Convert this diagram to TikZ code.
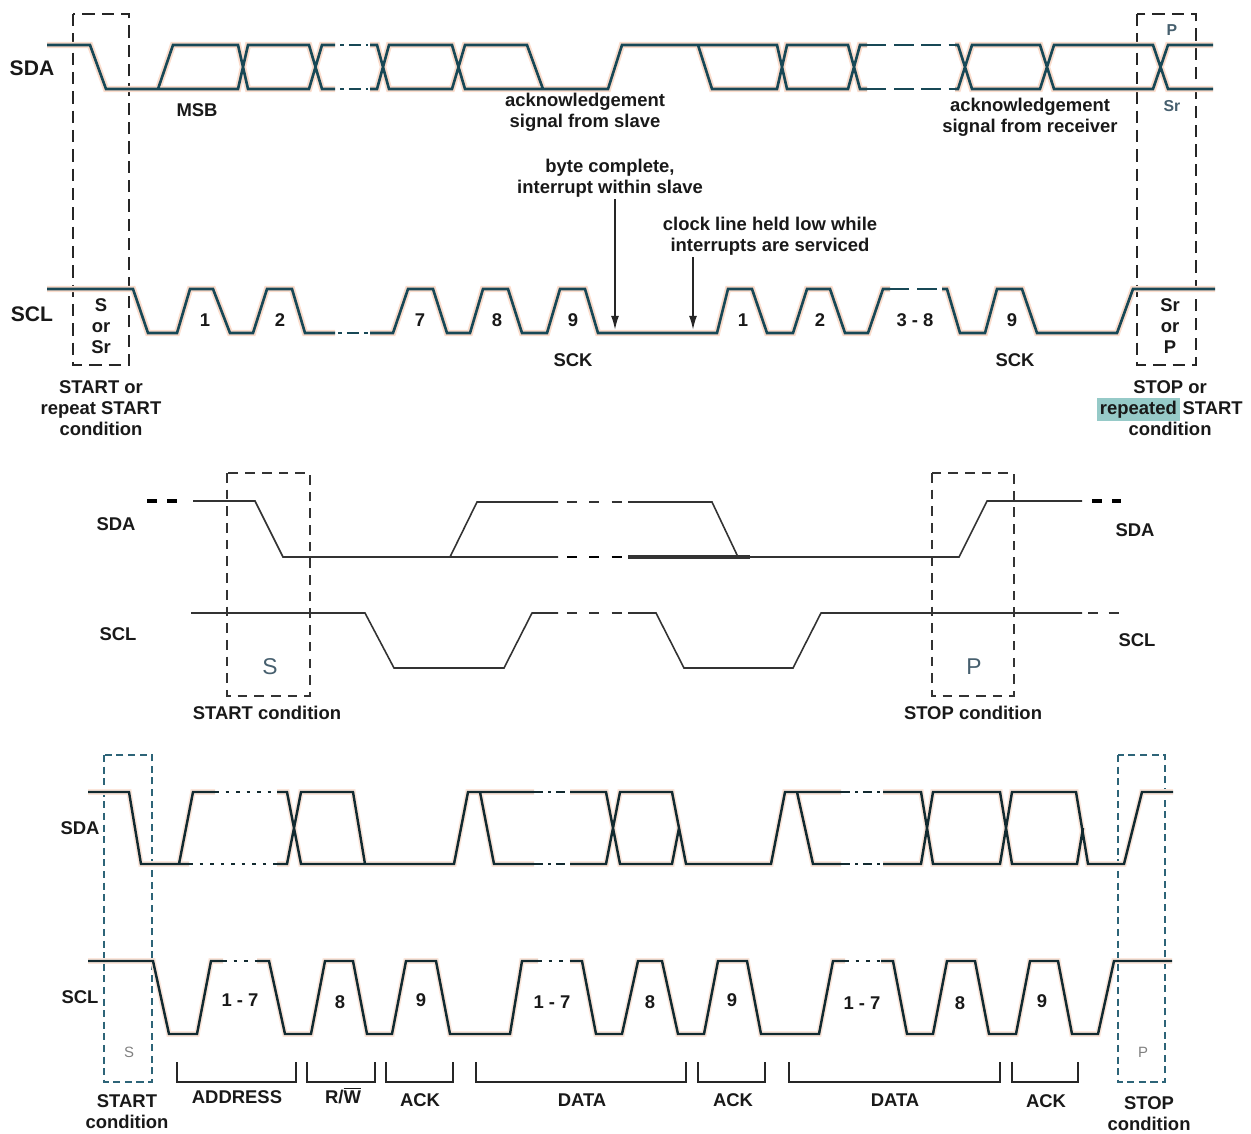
\documentclass[tikz,border=0pt]{standalone}
\usepackage{fontspec}
\setmainfont{Liberation Sans}
\usetikzlibrary{arrows.meta}
\definecolor{wavecol}{RGB}{24,72,86}
\definecolor{halo}{RGB}{250,220,204}
\definecolor{botcol}{RGB}{18,42,48}
\definecolor{boxteal}{RGB}{45,100,120}
\definecolor{hlteal}{RGB}{150,202,200}
\definecolor{condgray}{RGB}{70,95,110}
\setlength{\fboxsep}{1.5pt}

\begin{document}
\begin{tikzpicture}[x=0.02cm, y=-0.02cm,
	lbl/.style={font=\fontsize{10.5}{11.9}\selectfont\bfseries, align=center, inner sep=1pt, text=black!90},
	siglbl/.style={font=\fontsize{12}{14}\selectfont\bfseries, inner sep=1pt, text=black!90},
	pslbl/.style={font=\fontsize{9}{10}\selectfont\bfseries, inner sep=1pt, text=condgray},
	wave/.style={draw=wavecol, line width=1.5pt, preaction={draw=halo, line width=3.6pt}},
	wavegap/.style={draw=wavecol, line width=1.5pt, dash pattern=on 2.3pt off 2.8pt on 6.8pt off 2.8pt},
	wavedash/.style={draw=wavecol, line width=1.5pt, dash pattern=on 11pt off 4.5pt},
	topbox/.style={draw=black!85, line width=1.1pt, dash pattern=on 7pt off 4pt},
	sigarrow/.style={-{Latex[length=8pt,width=4.5pt]}, line width=1pt, draw=black!85},
	thinwave/.style={draw=black!80, line width=0.9pt},
	thickdash/.style={draw=black, line width=1.8pt, dash pattern=on 5.7pt off 5.7pt},
	midbox/.style={draw=black!80, line width=0.8pt, dash pattern=on 5.5pt off 4pt},
	botwave/.style={draw=botcol, line width=1.4pt, preaction={draw=halo!70, line width=3.2pt}},
	botdot/.style={draw=botcol, line width=1.4pt, dash pattern=on 2pt off 4pt},
	botgap/.style={draw=botcol, line width=1.4pt, dash pattern=on 5pt off 3pt on 1.5pt off 3pt},
	botbox/.style={draw=boxteal, line width=1.2pt, dash pattern=on 4pt off 2.6pt},
	brk/.style={draw=black!85, line width=1pt}]
	\useasboundingbox (0,0) rectangle (1251,1133);

	% Byte transfer with clock stretching
	\draw[topbox] (73,14) rectangle (129,365);
	\draw[topbox] (1137,14) rectangle (1196,365);
	\draw[wave] (47,45) -- (90,45) -- (106,89) -- (238,89) -- (248,45) -- (309,45) -- (322,89) -- (335,89)
		(158,89) -- (173,45) -- (238,45) -- (248,89) -- (309,89) -- (322,45) -- (335,45)
		(370,45) -- (377,45) -- (389,89) -- (452,89) -- (465,45) -- (527,45) -- (543,89) -- (608,89) -- (622,45) -- (698,45) -- (712,89) -- (777,89) -- (787,45) -- (848,45) -- (860,89) -- (867,89)
		(370,89) -- (377,89) -- (389,45) -- (452,45) -- (465,89) -- (543,89)
		(698,45) -- (777,45) -- (787,89) -- (848,89) -- (860,45) -- (867,45)
		(955,45) -- (958,45) -- (972,89) -- (1040,89) -- (1054,45) -- (1153,45) -- (1168,89) -- (1213,89)
		(955,89) -- (958,89) -- (972,45) -- (1040,45) -- (1054,89) -- (1153,89) -- (1168,45) -- (1213,45);
	\draw[wavegap] (340,45) -- (368,45) (340,89) -- (368,89);
	\draw[wavedash] (867,45) -- (955,45) (867,89) -- (955,89);
	\draw[wave] (47,289) -- (133,289) -- (148,333) -- (177,333) -- (190,289) -- (213,289) -- (230,333) -- (253,333) -- (267,289) -- (292,289) -- (305,333) -- (335,333)
		(370,333) -- (393,333) -- (408,289) -- (433,289) -- (447,333) -- (470,333) -- (483,289) -- (508,289) -- (522,333) -- (547,333) -- (560,289) -- (585,289) -- (598,333) -- (717,333) -- (728,289) -- (752,289) -- (767,333) -- (793,333) -- (807,289) -- (830,289) -- (845,333) -- (868,333) -- (883,289) -- (890,289)
		(942,289) -- (947,289) -- (960,333) -- (985,333) -- (997,289) -- (1022,289) -- (1037,333) -- (1117,333) -- (1133,289) -- (1215,289);
	\draw[wavegap] (338,333) -- (368,333);
	\draw[wavedash] (890,289) -- (942,289);

	\node[siglbl] (sdaTop) at (32,68) {SDA};
	\node[siglbl] (sclTop) at (32,314) {SCL};
	\node[lbl] (msbLbl) at (197,110) {MSB};
	\node[lbl] (ackSlave) at (585,112) {acknowledgement\\signal from slave};
	\node[lbl] (byteDone) at (610,178) {byte complete,\\interrupt within slave};
	\node[lbl] (clkHeld) at (770,236) {clock line held low while\\interrupts are serviced};
	\node[lbl] (ackRecv) at (1030,117) {acknowledgement\\signal from receiver};
	\node[pslbl] (pTop) at (1172,30) {P};
	\node[pslbl] (srTop) at (1172,106) {Sr};
	\node[lbl] (sOrSr) at (101,326) {S\\or\\Sr};
	\node[lbl] (srOrP) at (1170,326) {Sr\\or\\P};
	\node[lbl] (startTop) at (101,408) {START or\\repeat START\\condition};
	\node[lbl] (stopTop) at (1170,408) {STOP or\\\colorbox{hlteal}{repeated}\,START\\condition};
	\node[lbl] (bitA1) at (205,320) {1};
	\node[lbl] (bitA2) at (280,320) {2};
	\node[lbl] (bitA7) at (420,320) {7};
	\node[lbl] (bitA8) at (497,320) {8};
	\node[lbl] (bitA9) at (573,320) {9};
	\node[lbl] (bitB1) at (743,320) {1};
	\node[lbl] (bitB2) at (820,320) {2};
	\node[lbl] (bitB38) at (915,320) {3 - 8};
	\node[lbl] (bitB9) at (1012,320) {9};
	\node[lbl] (sckA) at (573,360) {SCK};
	\node[lbl] (sckB) at (1015,360) {SCK};
	\coordinate (byteEnd) at (615,330);
	\coordinate (holdLow) at (693,330);
	\draw[sigarrow] (byteDone.south -| byteEnd) -- (byteEnd);
	\draw[sigarrow] (clkHeld.south -| holdLow) -- (holdLow);

	% START and STOP conditions
	\draw[midbox] (227,473) rectangle (310,696);
	\draw[midbox] (932,473) rectangle (1014,696);
	\draw[thinwave] (193,501) -- (255,501) -- (283,557) -- (558,557)
		(450,557) -- (477,502) -- (558,502)
		(628,502) -- (712,502) -- (738,557)
		(628,557) -- (959,557) -- (987,501) -- (1082,501);
	\draw[thinwave, line width=1.8pt] (628,557) -- (750,557);
	\draw[thinwave, dash pattern=on 5.7pt off 7pt] (567,502) -- (622,502) (567,613) -- (622,613);
	\draw[thickdash, line width=1.6pt, dash pattern=on 5.7pt off 7pt] (567,557) -- (622,557);
	\draw[thickdash] (147,501) -- (180,501);
	\draw[thickdash] (1092,501) -- (1121,501);
	\draw[thinwave] (191,613) -- (365,613) -- (394,668) -- (504,668) -- (532,613) -- (558,613)
		(628,613) -- (656,613) -- (684,668) -- (793,668) -- (821,613) -- (1082,613);
	\draw[thinwave, line width=1.2pt, dash pattern=on 5.7pt off 6pt] (1088,613) -- (1121,613);

	\node[lbl] (sdaMidL) at (116,524) {SDA};
	\node[lbl] (sclMidL) at (118,634) {SCL};
	\node[lbl] (sdaMidR) at (1135,530) {SDA};
	\node[lbl] (sclMidR) at (1137,640) {SCL};
	\node[font=\fontsize{13}{14}\selectfont, text=condgray] (sMid) at (270,667) {S};
	\node[font=\fontsize{13}{14}\selectfont, text=condgray] (pMid) at (974,667) {P};
	\node[lbl] (startMid) at (267,713) {START condition};
	\node[lbl] (stopMid) at (973,713) {STOP condition};

	% Complete data transfer
	\draw[botbox] (104,755) rectangle (152,1082);
	\draw[botbox] (1118,755) rectangle (1165,1082);
	\draw[botwave] (88,792) -- (129,792) -- (141,864) -- (189,864)
		(179,864) -- (193,792) -- (215,792)
		(277,792) -- (287,792) -- (301,864) -- (454,864) -- (468,792) -- (534,792)
		(277,864) -- (287,864) -- (301,792) -- (353,792) -- (365,864)
		(468,792) -- (480,792) -- (494,864) -- (534,864)
		(570,792) -- (606,792) -- (620,864) -- (672,864) -- (679,828)
		(570,864) -- (606,864) -- (620,792) -- (672,792) -- (686,864) -- (771,864) -- (785,792) -- (841,792)
		(785,792) -- (797,792) -- (813,864) -- (841,864)
		(883,792) -- (921,792) -- (933,864) -- (1000,864) -- (1012,792) -- (1076,792) -- (1088,864) -- (1124,864) -- (1142,792) -- (1173,792)
		(883,864) -- (921,864) -- (933,792) -- (1000,792) -- (1012,864) -- (1077,864) -- (1083,828);
	\draw[botdot] (215,792) -- (277,792) (189,864) -- (277,864);
	\draw[botgap] (534,792) -- (570,792) (534,864) -- (570,864) (841,792) -- (883,792) (841,864) -- (883,864);
	\draw[botwave] (88,961) -- (153,961) -- (169,1034) -- (197,1034) -- (211,961) -- (223,961)
		(257,961) -- (269,961) -- (285,1034) -- (311,1034) -- (325,961) -- (353,961) -- (367,1034) -- (392,1034) -- (406,961) -- (436,961) -- (450,1034) -- (510,1034) -- (522,961) -- (538,961)
		(570,961) -- (582,961) -- (596,1034) -- (622,1034) -- (638,961) -- (662,961) -- (678,1034) -- (704,1034) -- (718,961) -- (747,961) -- (761,1034) -- (819,1034) -- (833,961) -- (845,961)
		(881,961) -- (893,961) -- (907,1034) -- (933,1034) -- (947,961) -- (975,961) -- (989,1034) -- (1016,1034) -- (1030,961) -- (1058,961) -- (1072,1034) -- (1098,1034) -- (1114,961) -- (1172,961);
	\draw[botdot] (223,961) -- (257,961) (538,961) -- (570,961) (845,961) -- (881,961);

	% brackets
	\draw[brk] (177,1062) |- (296,1082) -- (296,1062);
	\draw[brk] (307,1062) |- (375,1082) -- (375,1062);
	\draw[brk] (386,1062) |- (453,1082) -- (453,1062);
	\draw[brk] (476,1062) |- (686,1082) -- (686,1062);
	\draw[brk] (698,1062) |- (765,1082) -- (765,1062);
	\draw[brk] (789,1062) |- (1000,1082) -- (1000,1062);
	\draw[brk] (1012,1062) |- (1078,1082) -- (1078,1062);

	\node[lbl] (sdaBot) at (80,828) {SDA};
	\node[lbl] (sclBot) at (80,997) {SCL};
	\node[font=\fontsize{8.5}{10}\selectfont, text=gray] (sBot) at (129,1052) {S};
	\node[font=\fontsize{8.5}{10}\selectfont, text=gray] (pBot) at (1143,1052) {P};
	\node[lbl] (adrBits) at (240,1000) {1 - 7};
	\node[lbl] (rwBit) at (340,1002) {8};
	\node[lbl] (ackBitA) at (421,1000) {9};
	\node[lbl] (datBitsA) at (552,1002) {1 - 7};
	\node[lbl] (datBitA8) at (650,1002) {8};
	\node[lbl] (ackBitB) at (732,1000) {9};
	\node[lbl] (datBitsB) at (862,1003) {1 - 7};
	\node[lbl] (datBitB8) at (960,1003) {8};
	\node[lbl] (ackBitC) at (1042,1001) {9};
	\node[lbl] (adrLbl) at (237,1097) {ADDRESS};
	\node[lbl] (rwLbl) at (343,1096) {R/$\overline{\mbox{W}}$};
	\node[lbl] (ackLblA) at (420,1100) {ACK};
	\node[lbl] (datLblA) at (582,1100) {DATA};
	\node[lbl] (ackLblB) at (733,1100) {ACK};
	\node[lbl] (datLblB) at (895,1100) {DATA};
	\node[lbl] (ackLblC) at (1046,1101) {ACK};
	\node[lbl] (startBot) at (127,1112) {START\\condition};
	\node[lbl] (stopBot) at (1149,1114) {STOP\\condition};
\end{tikzpicture}
\end{document}
